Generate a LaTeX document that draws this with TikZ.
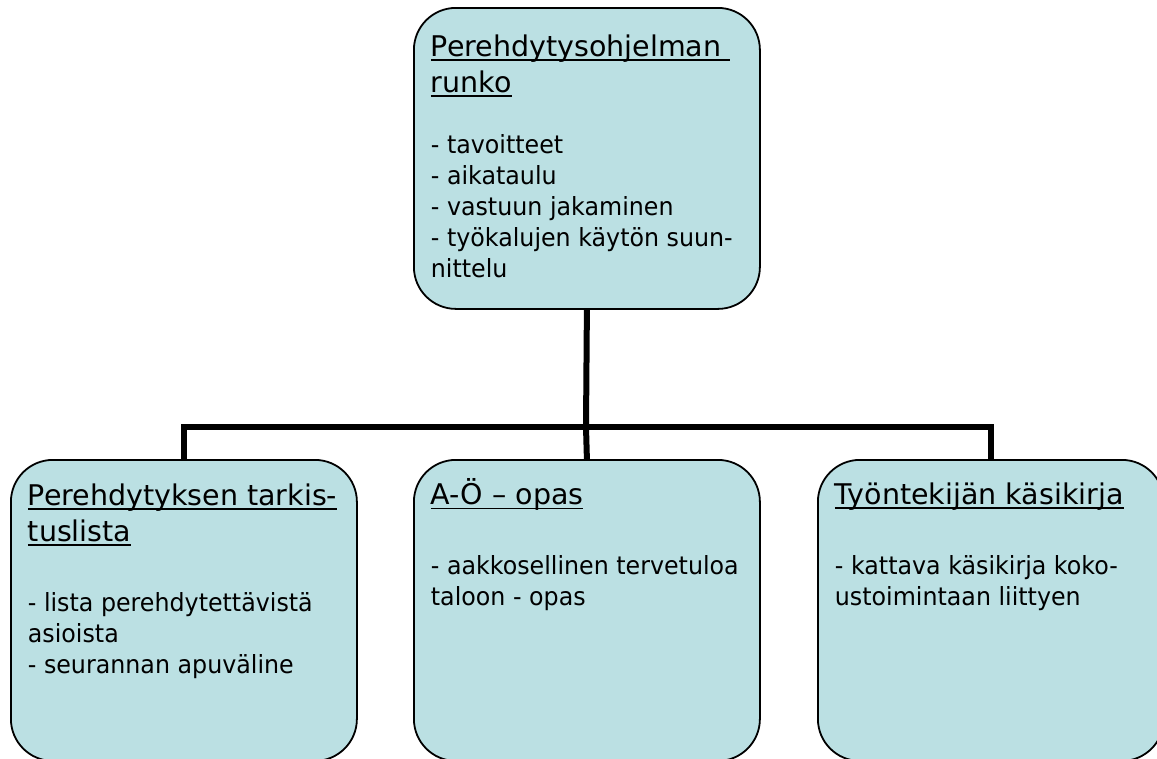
\documentclass[tikz,border=0pt]{standalone}
\usepackage{fontspec}
\setmainfont{DejaVu Sans}
\newfontfamily\bodyfont{DejaVu Sans}[FakeStretch=0.95]
\definecolor{boxfill}{HTML}{BBE0E3}
\tikzset{
  box/.style={draw=black, line width=1.8pt, fill=boxfill, rounded corners=42pt,
    minimum width=346pt, minimum height=301pt, inner sep=0pt, anchor=north west},
  conn/.style={draw=black, line width=6pt}
}
\newsavebox\ulbox
\newcommand\ulh[1]{\leavevmode\sbox\ulbox{#1}\rlap{\rule[-4.5pt]{\wd\ulbox}{1.7pt}}\usebox\ulbox}
\newcommand\hd{\fontsize{28.5}{36}\selectfont}
\newcommand\bd{\bodyfont\fontsize{25}{31}\selectfont}
\newcommand\boxtext[2]{\begin{minipage}[c][301pt][t]{346pt}\raggedright\leftskip=17pt\parskip=0pt\vspace*{#1}#2\end{minipage}}
\begin{document}
\begin{tikzpicture}[x=1pt,y=-1pt]
\useasboundingbox (0,0) rectangle (1157,758);
\clip (0,0) rectangle (1157,758);
\coordinate (bus) at (586,427);
\node[box] (top) at (413,7) {\boxtext{23.5pt}{%
  {\hd\strut\ulh{Perehdytysohjelman\ }\\\ulh{runko}\par}
  \vspace{30pt}
  {\bd - tavoitteet\\- aikataulu\\- vastuun jakaminen\\- työkalujen käytön suun-\\nittelu\par}}};
\node[box] (left) at (10,459) {\boxtext{20pt}{%
  {\hd\strut\ulh{Perehdytyksen tarkis-}\\\ulh{tuslista}\par}
  \vspace{39pt}
  {\bd - lista perehdytettävistä\\asioista\\- seurannan apuväline\par}}};
\node[box] (mid) at (413,459) {\boxtext{19pt}{%
  {\hd\strut\ulh{A-Ö – opas}\par}
  \vspace{39pt}
  {\bd - aakkosellinen tervetuloa\\taloon - opas\par}}};
\node[box] (right) at (817,459) {\boxtext{19pt}{%
  {\hd\strut\ulh{Työntekijän käsikirja}\par}
  \vspace{39pt}
  {\bd - kattava käsikirja koko-\\ustoimintaan liittyen\par}}};
\draw[conn] (top.south) -- (bus);
\draw[conn] (left.north) |- (bus) -| (right.north);
\draw[conn] (bus) -- (mid.north);
\end{tikzpicture}
\end{document}
